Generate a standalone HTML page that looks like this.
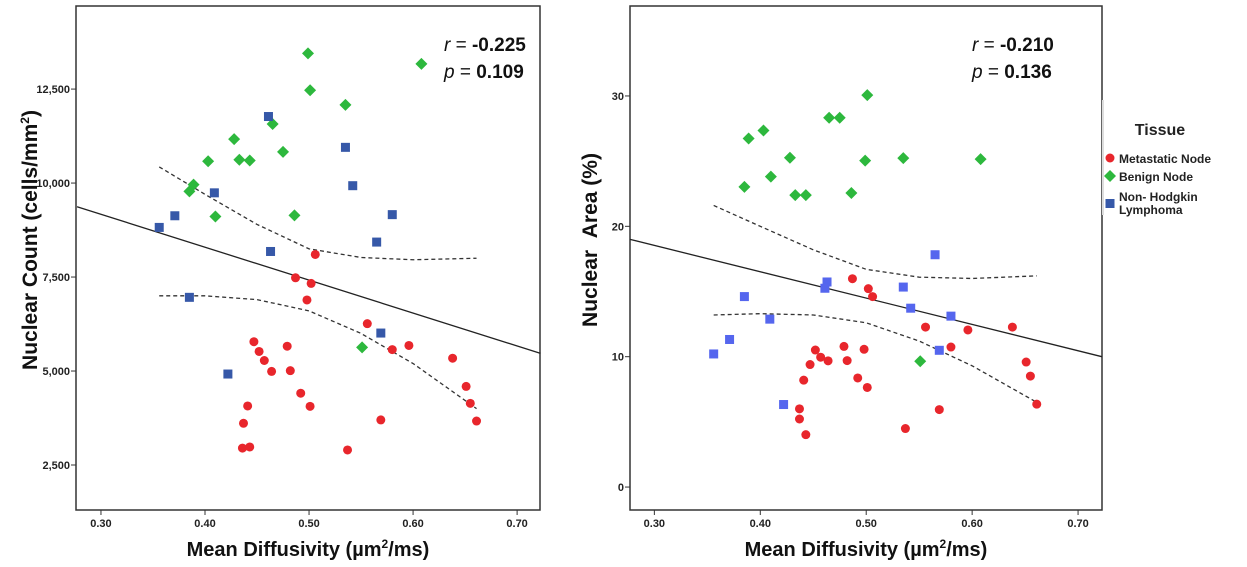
<!DOCTYPE html>
<html><head><meta charset="utf-8"><style>
body{margin:0;background:#fff;width:1247px;height:567px;overflow:hidden;font-family:"Liberation Sans",sans-serif}
svg{display:block}
</style></head><body>
<svg id="c" width="1247" height="567" xmlns="http://www.w3.org/2000/svg"></svg>
<script>
// shared x (mean diffusivity) per group
const metX=[0.506,0.487,0.502,0.498,0.556,0.447,0.452,0.457,0.479,0.464,0.482,0.492,0.441,0.501,0.437,0.436,0.443,0.537,0.569,0.580,0.596,0.638,0.651,0.655,0.661];
const metCount=[8100,7480,7330,6890,6260,5780,5520,5280,5660,4990,5010,4410,4070,4060,3610,2950,2980,2900,3700,5570,5680,5340,4590,4140,3670];
const metAreaX=[0.487,0.502,0.506,0.556,0.638,0.596,0.580,0.479,0.498,0.452,0.457,0.464,0.482,0.651,0.447,0.655,0.441,0.492,0.501,0.661,0.437,0.569,0.437,0.537,0.443];
const metArea=[15.98,15.22,14.61,12.27,12.27,12.05,10.74,10.79,10.57,10.51,9.96,9.68,9.70,9.59,9.40,8.51,8.20,8.37,7.64,6.36,6.00,5.94,5.22,4.49,4.02];
const benX=[0.499,0.608,0.501,0.535,0.465,0.428,0.403,0.433,0.443,0.475,0.389,0.385,0.410,0.486,0.551];
const benCount=[13450,13170,12470,12080,11570,11170,10580,10620,10600,10830,9960,9780,9110,9140,5630];
const benAreaX=[0.501,0.465,0.475,0.403,0.389,0.428,0.535,0.608,0.499,0.410,0.385,0.433,0.443,0.486,0.551];
const benArea=[30.06,28.33,28.33,27.35,26.74,25.26,25.23,25.15,25.04,23.81,23.03,22.39,22.39,22.56,9.65];
const nhlX=[0.461,0.535,0.542,0.409,0.371,0.580,0.356,0.565,0.463,0.385,0.569,0.422];
const nhlCount=[11770,10950,9930,9740,9130,9160,8820,8430,8180,6960,6010,4920];
const nhlAreaX=[0.565,0.463,0.461,0.535,0.385,0.542,0.580,0.409,0.371,0.356,0.569,0.422];
const nhlArea=[17.82,15.73,15.25,15.34,14.61,13.72,13.11,12.88,11.32,10.21,10.49,6.33];
const fitX=[0.277,0.7225];
const fitCount=[9370,5470];
const fitArea=[19.0,10.0];
const ciX=[0.356,0.40,0.45,0.50,0.55,0.60,0.661];
const ciCountUp=[10430,9700,8900,8250,8020,7960,8000];
const ciCountLo=[7000,7000,6900,6600,6000,5200,4000];
const ciAreaUp=[21.6,20.0,18.2,16.7,16.1,16.0,16.2];
const ciAreaLo=[13.2,13.3,13.2,12.6,11.2,9.3,6.5];
const xTicks=[0.30,0.40,0.50,0.60,0.70];
const countTicks=[2500,5000,7500,10000,12500];
const areaTicks=[0,10,20,30];

const NS="http://www.w3.org/2000/svg";
const svg=document.getElementById('c');
function el(t,a,p){const e=document.createElementNS(NS,t);for(const k in a)e.setAttribute(k,a[k]);(p||svg).appendChild(e);return e;}
function panel(o){
  const g=el('g',{});
  
  
  const sx=v=>o.x0+(v-o.xmin)/(o.xmax-o.xmin)*(o.x1-o.x0);
  const sy=v=>o.y1-(v-o.ymin)/(o.ymax-o.ymin)*(o.y1-o.y0);
  const fr=el('rect',{x:o.x0,y:o.y0,width:o.x1-o.x0,height:o.y1-o.y0,fill:'none',stroke:'#333','stroke-width':1.5},g);
  
  xTicks.forEach(v=>{const x=sx(v);el('line',{x1:x,x2:x,y1:o.y1,y2:o.y1+5,stroke:'#333'},g);
    const t=el('text',{x:x,y:o.y1+17,'text-anchor':'middle','font-size':11,'font-weight':'bold',fill:'#222'},g);t.textContent=v.toFixed(2);
    });
  o.yt.forEach(v=>{const y=sy(v);el('line',{x1:o.x0-5,x2:o.x0,y1:y,y2:y,stroke:'#333'},g);
    const t=el('text',{x:o.x0-6,y:y+4,'text-anchor':'end','font-size':11,'font-weight':'bold',fill:'#222'},g);t.textContent=v.toLocaleString('en-US');
    });
  const fl=el('line',{x1:sx(fitX[0]),y1:sy(o.fit[0]),x2:sx(fitX[1]),y2:sy(o.fit[1]),stroke:'#222','stroke-width':1.3},g);
  
  [o.up,o.lo].forEach(arr=>{
    const pts=ciX.map((x,i)=>sx(x)+','+sy(arr[i])).join(' ');
    const p=el('polyline',{points:pts,fill:'none',stroke:'#333','stroke-width':1.3,'stroke-dasharray':'4,3'},g);
    });
  o.met[0].forEach((x,i)=>{const c=el('circle',{cx:sx(x),cy:sy(o.met[1][i]),r:4.5,fill:'#e8262c'},g);
    });
  o.ben[0].forEach((x,i)=>{const X=sx(x),Y=sy(o.ben[1][i]);const d=el('polygon',{points:`${X},${Y-6} ${X+6},${Y} ${X},${Y+6} ${X-6},${Y}`,fill:'#2db83d'},g);
    });
  o.nhl[0].forEach((x,i)=>{const X=sx(x),Y=sy(o.nhl[1][i]);const s=el('rect',{x:X-4.5,y:Y-4.5,width:9,height:9,fill:o.blue},g);
    });
  const a=el('text',{x:o.ax,y:51,'font-size':19,fill:'#111'},g);a.innerHTML='<tspan font-style="italic">r</tspan> = <tspan font-weight="bold">'+o.r+'</tspan>';
  
  const b=el('text',{x:o.ax,y:78,'font-size':19,fill:'#111'},g);b.innerHTML='<tspan font-style="italic">p</tspan> = <tspan font-weight="bold">'+o.p+'</tspan>';
  
  const xt=el('text',{x:(o.x0+o.x1)/2,y:556,'text-anchor':'middle','font-size':20,'font-weight':'bold',fill:'#111'},g);
  xt.innerHTML='Mean Diffusivity (µm<tspan font-size="12" dy="-8">2</tspan><tspan dy="8">/ms)</tspan>';
  
  const yt=el('text',{transform:`translate(${o.ytx},${o.yty}) rotate(-90)`,'text-anchor':'middle','font-size':21,'font-weight':'bold',fill:'#111'},g);
  yt.innerHTML=o.ytitle;
  
}
panel({name:'nuclear-count-panel',x0:76,x1:540,y0:6,y1:510,xmin:0.276,xmax:0.722,ymin:1303,ymax:14710,yt:countTicks,fit:fitCount,up:ciCountUp,lo:ciCountLo,
  met:[metX,metCount],ben:[benX,benCount],nhl:[nhlX,nhlCount],blue:'#3658a8',ax:444,r:'-0.225',p:'0.109',ytx:37,yty:240,
  ytitle:'Nuclear Count (cells/mm<tspan font-size="12" dy="-8">2</tspan><tspan dy="8">)</tspan>'});
panel({name:'nuclear-area-panel',x0:630,x1:1102,y0:6,y1:510,xmin:0.277,xmax:0.7226,ymin:-1.76,ymax:36.9,yt:areaTicks,fit:fitArea,up:ciAreaUp,lo:ciAreaLo,
  met:[metAreaX,metArea],ben:[benAreaX,benArea],nhl:[nhlAreaX,nhlArea],blue:'#5566ee',ax:972,r:'-0.210',p:'0.136',ytx:597,yty:240,
  ytitle:'Nuclear&#160;&#160;Area (%)'});
</script>
<svg style="position:absolute;left:1100px;top:0" width="147" height="240">
  <line x1="3" y1="100" x2="3" y2="215" stroke="#ddd" stroke-width="2"/>
  <text x="60" y="135" font-size="16" font-weight="bold" text-anchor="middle" fill="#222">Tissue</text>
  <circle cx="10" cy="158" r="4.5" fill="#e8262c"/>
  <text x="19" y="163" font-size="12" font-weight="bold" fill="#222">Metastatic Node</text>
  <polygon points="10,170 16,176 10,182 4,176" fill="#2db83d"/>
  <text x="19" y="181" font-size="12" font-weight="bold" fill="#222">Benign Node</text>
  <rect x="5.5" y="199" width="9" height="9" fill="#3658a8"/>
  <text x="19" y="201" font-size="12" font-weight="bold" fill="#222">Non- Hodgkin</text>
  <text x="19" y="214" font-size="12" font-weight="bold" fill="#222">Lymphoma</text>
</svg>
</body></html>
